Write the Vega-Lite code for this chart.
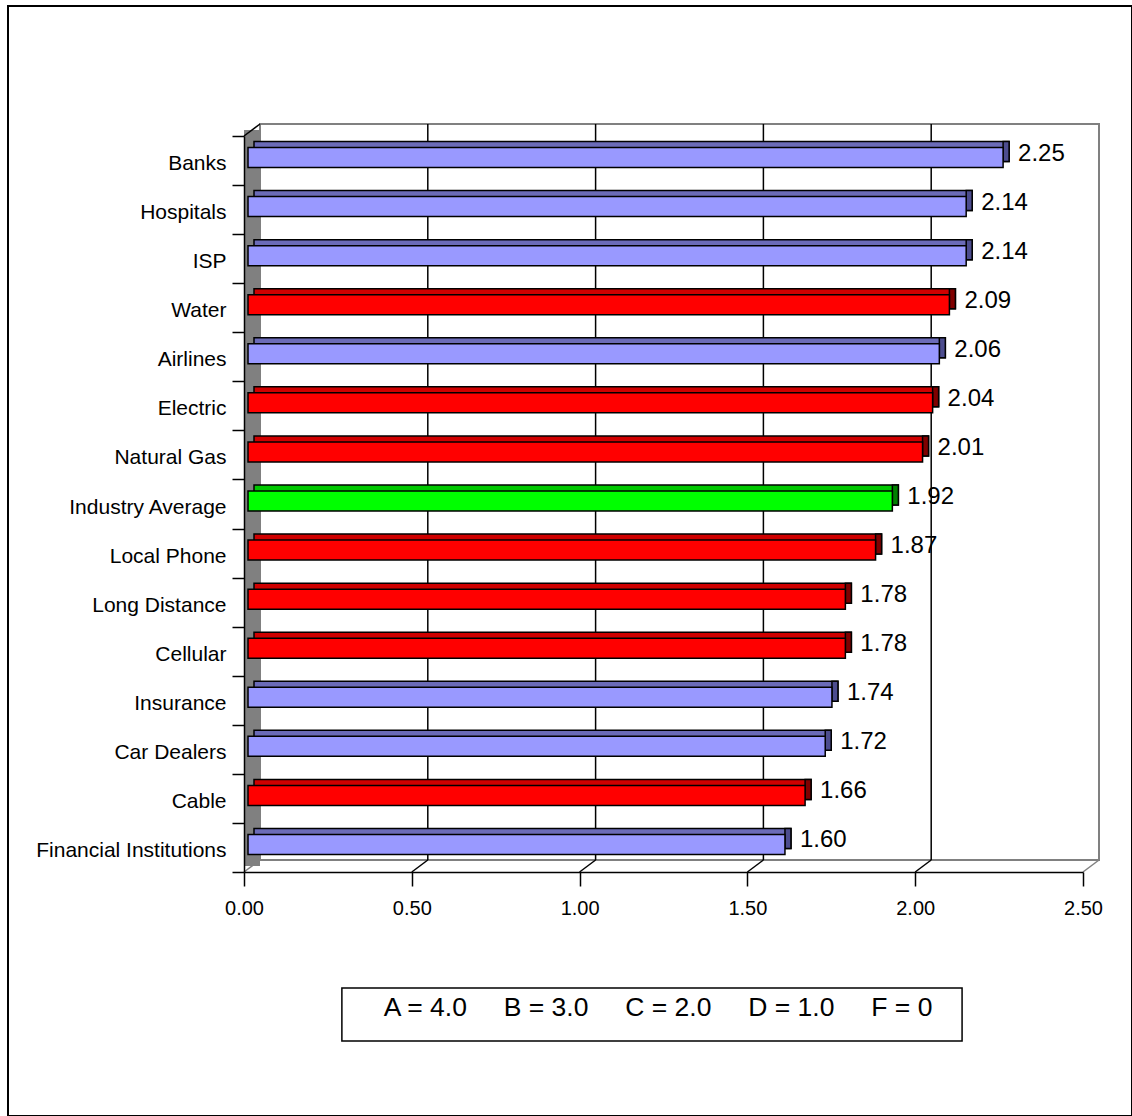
{
  "$schema": "https://vega.github.io/schema/vega-lite/v6.json",
  "width": 1124,
  "height": 1110,
  "autosize": "none",
  "padding": {"left": 8, "top": 6, "right": 0, "bottom": 0},
  "background": "white",
  "config": {
    "view": {"stroke": "black", "strokeWidth": 2},
    "font": "Liberation Sans"
  },
  "datasets": {
    "scores": [
      {"name": "Banks", "value": 2.25, "group": "Other"},
      {"name": "Hospitals", "value": 2.14, "group": "Other"},
      {"name": "ISP", "value": 2.14, "group": "Other"},
      {"name": "Water", "value": 2.09, "group": "Utility"},
      {"name": "Airlines", "value": 2.06, "group": "Other"},
      {"name": "Electric", "value": 2.04, "group": "Utility"},
      {"name": "Natural Gas", "value": 2.01, "group": "Utility"},
      {"name": "Industry Average", "value": 1.92, "group": "Average"},
      {"name": "Local Phone", "value": 1.87, "group": "Utility"},
      {"name": "Long Distance", "value": 1.78, "group": "Utility"},
      {"name": "Cellular", "value": 1.78, "group": "Utility"},
      {"name": "Insurance", "value": 1.74, "group": "Other"},
      {"name": "Car Dealers", "value": 1.72, "group": "Other"},
      {"name": "Cable", "value": 1.66, "group": "Utility"},
      {"name": "Financial Institutions", "value": 1.60, "group": "Other"}
    ],
    "grid": [{"v": 0.5}, {"v": 1.0}, {"v": 1.5}, {"v": 2.0}],
    "ticks": [{"v": 0}, {"v": 0.5}, {"v": 1.0}, {"v": 1.5}, {"v": 2.0}, {"v": 2.5}],
    "one": [{"k": 1}]
  },
  "resolve": {"scale": {"y": "independent", "color": "independent"}, "axis": {"x": "independent", "y": "independent"}},
  "layer": [
    {
      "data": {"name": "one"},
      "mark": {"type": "rect", "fill": "white", "stroke": "#808080", "strokeWidth": 2},
      "encoding": {
        "x": {"datum": 0, "type": "quantitative", "scale": {"domain": [0, 2.5], "range": [252, 1091], "nice": false, "zero": false}, "axis": null},
        "x2": {"datum": 2.5},
        "y": {"datum": 0, "type": "quantitative", "scale": {"domain": [0, 1], "range": [118, 854], "nice": false, "zero": false}, "axis": null},
        "y2": {"datum": 1}
      }
    },
    {
      "data": {"name": "grid"},
      "mark": {"type": "rule", "stroke": "black", "strokeWidth": 1.5},
      "encoding": {
        "x": {"field": "v", "type": "quantitative", "scale": {"domain": [0, 2.5], "range": [252, 1091], "nice": false, "zero": false}, "axis": null},
        "y": {"datum": 0, "type": "quantitative", "scale": {"domain": [0, 1], "range": [118, 854], "nice": false, "zero": false}, "axis": null},
        "y2": {"datum": 1}
      }
    },
    {
      "data": {"name": "one"},
      "mark": {"type": "rect", "fill": "#808080", "xOffset": -16, "x2Offset": 0, "yOffset": 6, "y2Offset": 6},
      "encoding": {
        "x": {"datum": 0, "type": "quantitative", "scale": {"domain": [0, 2.5], "range": [252, 1091], "nice": false, "zero": false}, "axis": null},
        "x2": {"datum": 0},
        "y": {"datum": 0, "type": "quantitative", "scale": {"domain": [0, 1], "range": [118, 854], "nice": false, "zero": false}, "axis": null},
        "y2": {"datum": 1}
      }
    },
    {
      "data": {"name": "one"},
      "mark": {"type": "rule", "stroke": "black", "strokeWidth": 1.5, "xOffset": -16, "yOffset": 12},
      "encoding": {
        "x": {"datum": 0, "type": "quantitative", "scale": {"domain": [0, 2.5], "range": [252, 1091], "nice": false, "zero": false}, "axis": null},
        "x2": {"datum": 0},
        "y": {"datum": 0, "type": "quantitative", "scale": {"domain": [0, 1], "range": [118, 854], "nice": false, "zero": false}, "axis": null},
        "y2": {"datum": 0}
      }
    },
    {
      "data": {"name": "ticks"},
      "mark": {"type": "rule", "strokeWidth": 1.5, "xOffset": -16, "yOffset": 12},
      "encoding": {
        "x": {"field": "v", "type": "quantitative", "scale": {"domain": [0, 2.5], "range": [252, 1091], "nice": false, "zero": false}, "axis": null},
        "x2": {"field": "v"},
        "y": {"datum": 1, "type": "quantitative", "scale": {"domain": [0, 1], "range": [118, 854], "nice": false, "zero": false}, "axis": null},
        "y2": {"datum": 1},
        "color": {"condition": {"test": "datum.v === 2.5 || datum.v === 0", "value": "#808080"}, "value": "black"}
      }
    },
    {
      "data": {"name": "one"},
      "mark": {"type": "rect", "fill": "white", "stroke": "black", "strokeWidth": 1.5},
      "encoding": {
        "x": {"datum": 0.244, "type": "quantitative", "scale": {"domain": [0, 2.5], "range": [252, 1091], "nice": false, "zero": false}, "axis": null},
        "x2": {"datum": 2.092},
        "y": {"datum": 1.174, "type": "quantitative", "scale": {"domain": [0, 1], "range": [118, 854], "nice": false, "zero": false}, "axis": null},
        "y2": {"datum": 1.246}
      }
    },
    {
      "data": {"name": "one"},
      "mark": {"type": "text", "fontSize": 26.5, "color": "black", "align": "center", "baseline": "middle", "font": "Liberation Sans"},
      "encoding": {
        "x": {"datum": 1.186, "type": "quantitative", "scale": {"domain": [0, 2.5], "range": [252, 1091], "nice": false, "zero": false}, "axis": null},
        "y": {"datum": 1.201, "type": "quantitative", "scale": {"domain": [0, 1], "range": [118, 854], "nice": false, "zero": false}, "axis": null},
        "text": {"value": "A = 4.0\u00a0\u00a0\u00a0\u00a0\u00a0B = 3.0\u00a0\u00a0\u00a0\u00a0\u00a0C = 2.0\u00a0\u00a0\u00a0\u00a0\u00a0D = 1.0\u00a0\u00a0\u00a0\u00a0\u00a0F = 0"}
      }
    },
    {
      "data": {"name": "scores"},
      "mark": {"type": "bar", "height": 20, "stroke": "black", "strokeWidth": 1.5, "xOffset": -6, "x2Offset": -6, "yOffset": 3},
      "encoding": {
        "x": {"field": "value", "type": "quantitative", "scale": {"domain": [0, 2.5], "range": [252, 1091], "nice": false, "zero": false}, "axis": null},
        "y": {"field": "name", "type": "nominal", "sort": null, "scale": {"range": [118, 854], "paddingInner": 0, "paddingOuter": 0}, "axis": null},
        "color": {"field": "group", "type": "nominal", "legend": null, "scale": {"domain": ["Other", "Utility", "Average"], "range": ["#6B6BB8", "#D00000", "#00C800"]}}
      }
    },
    {
      "data": {"name": "scores"},
      "mark": {"type": "bar", "height": 20, "stroke": "black", "strokeWidth": 1.5, "xOffset": -6, "x2Offset": -12, "yOffset": 3},
      "encoding": {
        "x": {"field": "value", "type": "quantitative", "scale": {"domain": [0, 2.5], "range": [252, 1091], "nice": false, "zero": false}, "axis": null},
        "x2": {"field": "value"},
        "y": {"field": "name", "type": "nominal", "sort": null, "scale": {"range": [118, 854], "paddingInner": 0, "paddingOuter": 0}, "axis": null},
        "color": {"field": "group", "type": "nominal", "legend": null, "scale": {"domain": ["Other", "Utility", "Average"], "range": ["#4D4D8F", "#800000", "#008000"]}}
      }
    },
    {
      "data": {"name": "scores"},
      "mark": {"type": "bar", "height": 20, "stroke": "black", "strokeWidth": 1.5, "xOffset": -12, "x2Offset": -12, "yOffset": 9},
      "encoding": {
        "x": {
          "field": "value", "type": "quantitative",
          "scale": {"domain": [0, 2.5], "range": [252, 1091], "nice": false, "zero": false},
          "axis": {
            "orient": "bottom", "offset": -244, "position": -16, "zindex": 2,
            "values": [0, 0.5, 1.0, 1.5, 2.0, 2.5], "format": ".2f", "grid": false, "title": null,
            "domainColor": "black", "domainWidth": 1.5, "tickColor": "black", "tickWidth": 1.5, "tickSize": 14,
            "labelFontSize": 20, "labelFont": "Liberation Sans", "labelColor": "black", "labelPadding": 12, "labelFlush": false, "labelOverlap": false
          }
        },
        "y": {
          "field": "name", "type": "nominal", "sort": null,
          "scale": {"range": [118, 854], "paddingInner": 0, "paddingOuter": 0},
          "axis": {
            "orient": "left", "offset": -236, "position": 12, "zindex": 2, "title": null, "grid": false,
            "tickBand": "extent", "domainColor": "black", "domainWidth": 1.5, "tickColor": "black", "tickWidth": 1.5, "tickSize": 12,
            "labelFontSize": 21, "labelFont": "Liberation Sans", "labelColor": "black", "labelPadding": 6, "labelOffset": 3, "labelLimit": 400
          }
        },
        "color": {"field": "group", "type": "nominal", "legend": null, "scale": {"domain": ["Other", "Utility", "Average"], "range": ["#9999FF", "#FF0000", "#00FF00"]}}
      }
    },
    {
      "data": {"name": "scores"},
      "mark": {"type": "text", "align": "left", "baseline": "middle", "dx": 3, "dy": 5, "fontSize": 24, "font": "Liberation Sans", "color": "black"},
      "encoding": {
        "x": {"field": "value", "type": "quantitative", "scale": {"domain": [0, 2.5], "range": [252, 1091], "nice": false, "zero": false}, "axis": null},
        "y": {"field": "name", "type": "nominal", "sort": null, "scale": {"range": [118, 854], "paddingInner": 0, "paddingOuter": 0}, "axis": null},
        "text": {"field": "value", "type": "quantitative", "format": ".2f"}
      }
    }
  ]
}
